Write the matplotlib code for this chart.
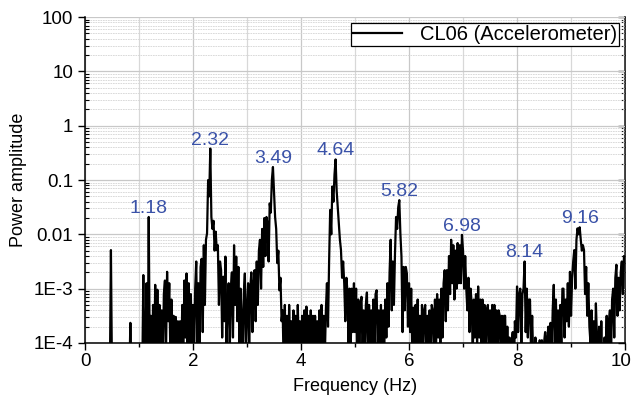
import numpy as np
import matplotlib
matplotlib.use("Agg")
import matplotlib.pyplot as plt
import matplotlib.transforms as mtransforms
from matplotlib.ticker import LogLocator, FixedLocator, NullFormatter, FixedFormatter

plt.rcParams['font.family'] = ['Liberation Sans', 'DejaVu Sans']

freq_step = 0.02
seg_0 = [-5, -5, -5, -5, -5, -5, -5, -5, -5, -5,
         -5, -5, -5, -5, -5, -5, -5, -5, -5, -5,
         -5, -5, -5, -4.6, -2.29, -4.6, -5, -5, -5, -5,
         -5, -5, -5, -5, -5, -5, -5, -5, -5, -5,
         -5, -4.6, -3.63, -4.6, -5, -5, -5, -5, -5, -5]
seg_1 = [-5, -5, -5, -4.6, -2.75, -4.6, -3.9, -2.9, -4.5, -1.68,
         -4.4, -3.5, -4.5, -3.3, -4.4, -2.93, -4.2, -3.02, -4.3, -3.3,
         -4.3, -3.4, -4.5, -3.1, -2.85, -4.2, -2.69, -3.6, -2.9, -4.2,
         -3.2, -4.4, -3.5, -4.5, -3.52, -4.6, -3.6, -4.5, -3.6, -4.6,
         -3.3, -4.3, -2.85, -3.9, -2.72, -4.0, -2.9, -4.3, -3.1, -4.4]
seg_2 = [-3.3, -4.3, -3.0, -2.5, -4.0, -2.9, -4.3, -2.6, -2.45, -3.8,
         -2.2, -3.3, -2.1, -1.98, -1.0, -1.3, -0.42, -1.68, -1.9, -1.75,
         -2.3, -1.95, -2.29, -2.2, -3.3, -2.5, -2.66, -3.9, -2.78, -3.6,
         -2.41, -4.0, -3.3, -2.9, -4.2, -3.0, -2.7, -3.9, -2.2, -3.3,
         -2.41, -3.6, -2.6, -4.0, -3.0, -3.52, -4.5, -3.1, -2.72, -4.1]
seg_3 = [-3.4, -2.9, -4.2, -3.0, -2.7, -3.8, -2.9, -2.66, -3.6, -2.5,
         -3.3, -2.3, -2.1, -3.0, -1.9, -2.6, -1.7, -2.4, -1.68, -1.8,
         -2.5, -1.43, -1.6, -1.0, -0.76, -1.2, -1.68, -1.9, -2.53, -2.3,
         -3.03, -2.8, -3.6, -3.4, -4.5, -3.3, -4.3, -3.5, -4.6, -3.3,
         -4.2, -3.6, -4.6, -3.4, -4.3, -3.5, -4.5, -3.3, -4.2, -3.6]
seg_4 = [-4.6, -3.5, -4.3, -3.4, -4.5, -3.33, -4.2, -3.5, -4.5, -3.4,
         -4.3, -3.5, -4.6, -3.5, -4.3, -3.6, -4.5, -3.4, -4.3, -3.3,
         -4.4, -3.5, -4.3, -3.4, -2.9, -3.7, -2.5, -1.55, -2.0, -1.12,
         -1.4, -0.9, -0.62, -1.2, -1.5, -1.8, -2.1, -2.29, -2.8, -2.5,
         -2.9, -3.6, -2.8, -3.05, -4.0, -3.0, -4.1, -3.0, -3.8, -2.9]
seg_5 = [-3.8, -3.0, -4.3, -3.2, -4.3, -3.3, -3.15, -4.3, -3.4, -4.5,
         -3.3, -3.07, -4.2, -3.3, -4.5, -3.4, -4.3, -3.2, -4.1, -3.1,
         -3.03, -4.2, -3.4, -4.4, -3.3, -4.3, -3.4, -4.2, -3.2, -3.9,
         -2.9, -3.7, -2.7, -2.1, -3.4, -2.5, -3.3, -2.35, -1.68, -1.9,
         -1.5, -1.37, -1.99, -2.41, -3.8, -2.6, -3.4, -2.6, -2.72, -3.7]
seg_6 = [-2.9, -3.8, -3.0, -4.2, -3.35, -4.4, -3.3, -4.1, -3.2, -4.2,
         -3.5, -4.5, -3.3, -4.2, -3.4, -3.3, -4.3, -3.5, -4.6, -3.4,
         -4.2, -3.3, -3.4, -4.3, -3.2, -4.1, -3.1, -3.9, -3.2, -4.0,
         -3.0, -3.9, -2.9, -2.66, -3.6, -2.66, -3.4, -2.4, -3.1, -2.1,
         -2.9, -2.2, -3.2, -2.3, -3.0, -2.16, -2.9, -2.2, -2.9, -2.01]
seg_7 = [-2.3, -3.0, -2.4, -3.0, -3.4, -2.8, -3.8, -3.0, -3.27, -4.2,
         -3.2, -3.9, -3.1, -4.0, -2.96, -3.9, -3.2, -4.2, -3.2, -4.0,
         -3.3, -4.3, -3.4, -3.3, -4.3, -3.4, -4.2, -3.3, -4.1, -3.3,
         -4.3, -3.4, -4.2, -3.4, -3.5, -4.5, -3.5, -4.3, -3.5, -3.5,
         -4.6, -3.7, -4.7, -3.9, -4.8, -4.0, -3.8, -4.7, -3.6, -3.9]
seg_8 = [-2.96, -3.8, -3.1, -3.0, -4.0, -3.1, -3.0, -2.5, -3.8, -3.0,
         -3.9, -3.2, -3.2, -4.2, -3.5, -4.3, -4.8, -3.9, -4.9, -4.2,
         -5.0, -3.95, -4.8, -3.95, -4.8, -4.0, -3.8, -4.7, -3.9, -3.7,
         -4.6, -3.63, -4.3, -3.4, -2.93, -4.0, -3.2, -4.3, -3.4, -4.1,
         -3.3, -4.0, -3.0, -3.0, -3.9, -3.2, -3.6, -2.9, -3.7, -2.69]
seg_9 = [-3.5, -2.8, -2.5, -2.29, -3.0, -2.1, -1.89, -2.0, -1.87, -2.1,
         -2.3, -2.2, -2.29, -3.1, -2.6, -3.5, -2.9, -3.7, -4.0, -3.4,
         -4.4, -3.6, -4.6, -3.27, -3.9, -4.4, -3.7, -4.7, -3.6, -4.7,
         -5.0, -3.9, -4.2, -3.5, -4.6, -3.6, -3.4, -4.3, -3.2, -3.0,
         -3.9, -2.8, -2.56, -3.5, -2.8, -3.4, -2.7, -2.5, -3.1, -2.4,
         -2.5]

peak_freqs = [1.18, 2.32, 3.49, 4.64, 5.82, 6.98, 8.14, 9.16]
series_name = "CL06 (Accelerometer)"
y_tick_values = [1e-4, 1e-3, 1e-2, 1e-1, 1, 10, 100]
y_tick_labels = ["1E-4", "1E-3", "0.01", "0.1", "1", "10", "100"]
x_tick_values = [0, 2, 4, 6, 8, 10]

log_power = np.array(seg_0 + seg_1 + seg_2 + seg_3 + seg_4 +
                     seg_5 + seg_6 + seg_7 + seg_8 + seg_9)
freqs = np.arange(len(log_power)) * freq_step
power = 10.0 ** log_power

# ---- figure ----
fig = plt.figure(figsize=(6.32, 4.03), dpi=100)
ax = fig.add_axes([0.1345, 0.149, 0.8545, 0.8085])

ax.plot(freqs, power, color='black', lw=1.6, label=series_name, zorder=3)
ax.set_yscale('log')
ax.set_xlim(0, 10)
ax.set_ylim(1e-4, 100)

label_color = '#3A52A8'
for pf in peak_freqs:
    win = np.abs(freqs - pf) <= 0.03
    idx = np.argmax(np.where(win, power, 0))
    ax.annotate(f"{pf:.2f}", xy=(freqs[idx], power[idx]), xytext=(0, 0),
                textcoords='offset points', ha='center', va='bottom',
                fontsize=14, color=label_color, zorder=4)

# ticks
ax.xaxis.set_major_locator(FixedLocator(x_tick_values))
ax.xaxis.set_minor_locator(FixedLocator([1, 3, 5, 7, 9]))
ax.yaxis.set_major_locator(FixedLocator(y_tick_values))
ax.yaxis.set_major_formatter(FixedFormatter(y_tick_labels))
ax.yaxis.set_minor_locator(LogLocator(base=10, subs=np.arange(2, 10), numticks=20))
ax.yaxis.set_minor_formatter(NullFormatter())

ax.tick_params(axis='both', which='major', labelsize=13.5, length=5, width=1.0,
               direction='out', color='black')
ax.tick_params(axis='x', which='major', pad=2)
ax.tick_params(axis='x', which='minor', length=3, width=1.0, direction='out')
ax.tick_params(axis='y', which='minor', length=3, width=0.8, direction='in')
ax.tick_params(axis='y', which='both', right=False, labelright=False)

# right axis with inward ticks
rax = ax.secondary_yaxis('right')
rax.yaxis.set_major_locator(FixedLocator(y_tick_values))
rax.yaxis.set_minor_locator(LogLocator(base=10, subs=np.arange(2, 10), numticks=20))
rax.yaxis.set_major_formatter(NullFormatter())
rax.yaxis.set_minor_formatter(NullFormatter())
rax.tick_params(which='major', direction='in', length=5, width=1.0)
rax.tick_params(which='minor', direction='in', length=3, width=0.8)
rax.spines['right'].set_linewidth(1.1)

ax.spines['top'].set_visible(False)
ax.spines['right'].set_visible(False)
for s in ['left', 'bottom']:
    ax.spines[s].set_linewidth(1.1)

# grid
ax.grid(True, which='major', axis='both', color='#c8c8c8', lw=0.9, ls='-', zorder=0)
ax.grid(True, which='minor', axis='x', color='#d8d8d8', lw=0.9, ls='-', zorder=0)
ax.grid(True, which='minor', axis='y', color='#d4d4d4', lw=0.6, ls=(0, (2, 1)), zorder=0)
ax.set_axisbelow(True)

ax.set_xlabel("Frequency (Hz)", fontsize=13, labelpad=6)
ax.set_ylabel("Power amplitude", fontsize=13, labelpad=5)

# keep the last x tick label ("10") inside the figure
last_lbl = ax.get_xticklabels()[-1]
last_lbl.set_transform(last_lbl.get_transform() +
                       mtransforms.ScaledTranslation(-4 / 100, 0, fig.dpi_scale_trans))

leg = ax.legend(loc='upper right', fontsize=14.5, frameon=True, fancybox=False,
                edgecolor='black', borderaxespad=0.3, handlelength=2.4,
                borderpad=0.1, handletextpad=0.9)
leg.get_frame().set_linewidth(0.9)
leg.get_frame().set_alpha(1)

fig.savefig("out.png", dpi=100)
